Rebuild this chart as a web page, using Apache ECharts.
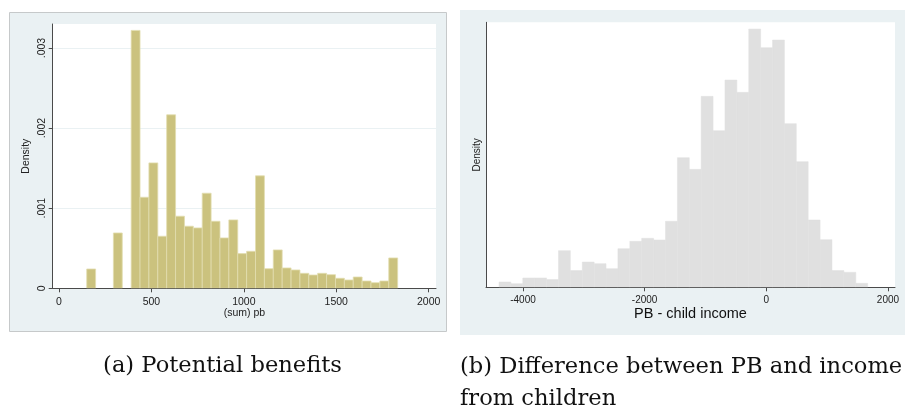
<!DOCTYPE html>
<html>
<head>
<meta charset="utf-8">
<script src="https://cdn.jsdelivr.net/npm/echarts@6/dist/echarts.min.js"></script>
<style>
html,body{margin:0;padding:0;background:#ffffff;}
#c{width:905px;height:409px;}
</style>
</head>
<body>
<div id="c"></div>
<script>
// ---- Panel (a): Potential benefits ----
var leftBinStart = 150;
var leftBinWidth = 48.06;
var leftDensity = [
  0.000241, 0, 0, 0.000691, 0, 0.00322, 0.001137, 0.001566, 0.00065, 0.002166,
  0.0009, 0.000775, 0.000754, 0.001187, 0.000837, 0.000629, 0.000854, 0.000433, 0.000462, 0.001404,
  0.000245, 0.000479, 0.000254, 0.000229, 0.000187, 0.000166, 0.000187, 0.00017, 0.000125, 0.000104,
  0.000141, 0.000091, 0.00007, 0.000091, 0.000379
];
var leftXTicks = [0, 500, 1000, 1500, 2000];
var leftYTicks = [0, 0.001, 0.002, 0.003];

// ---- Panel (b): Difference between PB and income from children ----
var rightBinStart = -4394;
var rightBinWidth = 195.5;
var rightDensity = [
  0.0000105, 0.0000072, 0.0000185, 0.0000185, 0.0000152, 0.0000725, 0.000033, 0.00005, 0.0000468, 0.0000369,
  0.0000764, 0.0000909, 0.0000969, 0.0000936, 0.0001305, 0.0002563, 0.0002333, 0.0003776, 0.0003097, 0.0004099,
  0.0003855, 0.0005107, 0.0004738, 0.000489, 0.0003236, 0.0002484, 0.0001331, 0.0000942, 0.000033, 0.0000297,
  0.0000079
];
var rightXTicks = [-4000, -2000, 0, 2000];

var captionA = '(a) Potential benefits';
var captionB1 = '(b) Difference between PB and income';
var captionB2 = 'from children';

function binData(start, width, dens) {
  return dens.map(function (d, i) {
    return [start + i * width, start + (i + 1) * width, d];
  });
}

function renderBar(fill, stroke, lw) {
  return function (params, api) {
    var p0 = api.coord([api.value(0), api.value(2)]);
    var p1 = api.coord([api.value(1), 0]);
    if (api.value(2) <= 0) return null;
    return {
      type: 'rect',
      shape: { x: p0[0], y: p0[1], width: p1[0] - p0[0], height: p1[1] - p0[1] },
      style: { fill: fill, stroke: stroke, lineWidth: lw }
    };
  };
}

var sans = 'Liberation Sans, Arial, sans-serif';
var serifFont = '22.6px "DejaVu Serif", serif';
var axisLineStyle = { color: '#4a4a4a', width: 1 };
function plain(v) { return String(Math.round(v)); }

var chart = echarts.init(document.getElementById('c'), null, { renderer: 'canvas' });
chart.setOption({
  animation: false,
  backgroundColor: '#ffffff',
  graphic: [
    { type: 'rect', z: -10, shape: { x: 9.5, y: 12.5, width: 437, height: 319 },
      style: { fill: '#eaf1f3', stroke: '#c6c9ca', lineWidth: 1 } },
    { type: 'rect', z: -10, shape: { x: 460, y: 10, width: 445, height: 325 },
      style: { fill: '#eaf1f3' } },
    { type: 'text', x: 222.5, y: 366, style: { text: captionA, font: serifFont, fill: '#111', align: 'center', verticalAlign: 'middle' } },
    { type: 'text', x: 460, y: 367, style: { text: captionB1, font: serifFont, fill: '#111', align: 'left', verticalAlign: 'middle' } },
    { type: 'text', x: 460, y: 399, style: { text: captionB2, font: serifFont, fill: '#111', align: 'left', verticalAlign: 'middle' } }
  ],
  grid: [
    { left: 52.7, top: 24, width: 383.3, height: 264.3, show: true, backgroundColor: '#ffffff', borderWidth: 0 },
    { left: 486, top: 22.3, width: 409, height: 265, show: true, backgroundColor: '#ffffff', borderWidth: 0 }
  ],
  xAxis: [
    { type: 'value', gridIndex: 0, min: -34.1, max: 2039.5,
      axisLine: { show: true, onZero: false, lineStyle: axisLineStyle },
      axisTick: { show: true, length: 4, lineStyle: axisLineStyle, customValues: leftXTicks },
      axisLabel: { customValues: leftXTicks, formatter: plain, fontFamily: sans, fontSize: 10.5, color: '#222', margin: 8 },
      splitLine: { show: false },
      name: '(sum) pb', nameLocation: 'middle', nameGap: 19, nameMoveOverlap: false,
      nameTextStyle: { fontFamily: sans, fontSize: 10.5, color: '#222' } },
    { type: 'value', gridIndex: 1, min: -4607.7, max: 2115.6,
      axisLine: { show: true, onZero: false, lineStyle: axisLineStyle },
      axisTick: { show: true, length: 4, lineStyle: axisLineStyle, customValues: rightXTicks },
      axisLabel: { customValues: rightXTicks, formatter: plain, fontFamily: sans, fontSize: 10, color: '#222', margin: 8 },
      splitLine: { show: false },
      name: 'PB - child income', nameLocation: 'middle', nameGap: 19, nameMoveOverlap: false,
      nameTextStyle: { fontFamily: sans, fontSize: 14.5, color: '#111' } }
  ],
  yAxis: [
    { type: 'value', gridIndex: 0, min: 0, max: 0.0033,
      axisLine: { show: true, onZero: false, lineStyle: axisLineStyle },
      axisTick: { show: true, length: 4, lineStyle: axisLineStyle, customValues: leftYTicks },
      axisLabel: { customValues: leftYTicks, rotate: 90, fontFamily: sans, fontSize: 10.5, color: '#222', margin: 5,
        formatter: function (v) { return v === 0 ? '0' : String(+v.toFixed(4)).replace(/^0\./, '.'); } },
      splitLine: { show: true, lineStyle: { color: '#eaf1f3', width: 1 } },
      name: 'Density', nameLocation: 'middle', nameGap: 21, nameMoveOverlap: false,
      nameTextStyle: { fontFamily: sans, fontSize: 10.5, color: '#222' } },
    { type: 'value', gridIndex: 1, min: 0, max: 0.000524,
      axisLine: { show: true, onZero: false, lineStyle: axisLineStyle },
      axisTick: { show: false },
      axisLabel: { show: false },
      splitLine: { show: false },
      name: 'Density', nameLocation: 'middle', nameGap: 4, nameMoveOverlap: false,
      nameTextStyle: { fontFamily: sans, fontSize: 10, color: '#222' } }
  ],
  series: [
    { type: 'custom', xAxisIndex: 0, yAxisIndex: 0, clip: true,
      renderItem: renderBar('#cbc27e', '#e2ddb0', 0.8),
      encode: { x: [0, 1], y: 2 },
      data: binData(leftBinStart, leftBinWidth, leftDensity) },
    { type: 'custom', xAxisIndex: 1, yAxisIndex: 1, clip: true,
      renderItem: renderBar('#e0e0e0', '#e0e0e0', 0.5),
      encode: { x: [0, 1], y: 2 },
      data: binData(rightBinStart, rightBinWidth, rightDensity) }
  ]
});
</script>
</body>
</html>
